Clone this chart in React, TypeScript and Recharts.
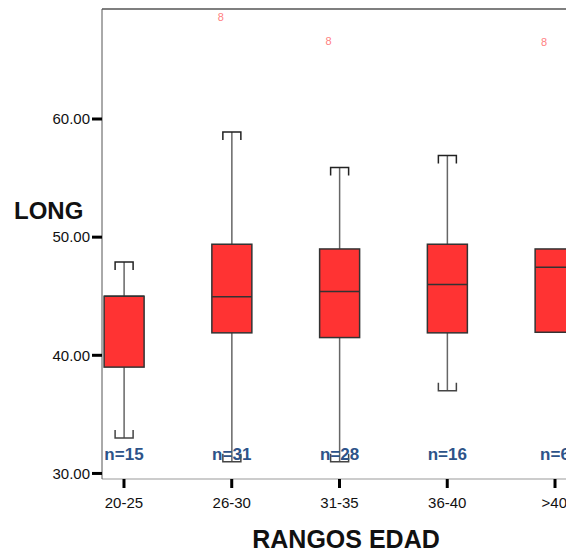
import React from 'react';
import { ComposedChart, Bar, Scatter, XAxis, YAxis, ReferenceLine } from 'recharts';

const categories = ['20-25', '26-30', '31-35', '36-40', '>40'];
const mins = [33, 31, 31, 37, 42];
const q1s = [39, 41.9, 41.5, 41.9, 41.95];
const medians = [45, 44.95, 45.4, 46, 47.45];
const q3s = [45, 49.4, 49.0, 49.4, 49.0];
const maxs = [47.9, 58.9, 55.9, 56.9, 49.0];
const counts = [15, 31, 28, 16, 6];
const outlierCats = [2, 3, 5];
const outlierValues = [68.64, 66.6, 66.55];
const outlierLabels = ['8', '8', '8'];
const yTicks = [30, 40, 50, 60];
const nLabelLevel = 31.1;

const Y_MIN = 29.53;
const Y_MAX = 69.31;

const boxData = categories.map((c, i) => ({
  x: i + 1,
  name: c,
  min: mins[i],
  q1: q1s[i],
  median: medians[i],
  q3: q3s[i],
  max: maxs[i],
  range: [mins[i], maxs[i]],
}));

const nData = categories.map((c, i) => ({ x: i + 1, y: nLabelLevel, n: counts[i] }));
const outlierData = outlierCats.map((c, i) => ({ x: c, y: outlierValues[i], label: outlierLabels[i] }));

const FONT = 'Liberation Sans, Arial, sans-serif';

const BoxShape = (props: any) => {
  const { x, y, width, height, payload } = props;
  if (x == null || y == null || !payload) return null;
  const top = Math.min(y, y + height);
  const bottom = Math.max(y, y + height);
  const span = payload.max - payload.min;
  const py = (v: number) => top + ((bottom - top) * (payload.max - v)) / span;
  const cx = x + width / 2;
  const capHalf = 9;
  const capH = 8;
  const yMax = py(payload.max);
  const yQ3 = py(payload.q3);
  const yMed = py(payload.median);
  const yQ1 = py(payload.q1);
  const yMin = py(payload.min);
  return (
    <g>
      {payload.max > payload.q3 && (
        <g>
          <line x1={cx} x2={cx} y1={yMax} y2={yQ3} stroke="#666" strokeWidth={1.5} />
          <path d={`M${cx - capHalf},${yMax + capH}V${yMax}H${cx + capHalf}V${yMax + capH}`} fill="none" stroke="#222" strokeWidth={1.5} />
        </g>
      )}
      {payload.min < payload.q1 && (
        <g>
          <line x1={cx} x2={cx} y1={yQ1} y2={yMin} stroke="#666" strokeWidth={1.5} />
          <path d={`M${cx - capHalf},${yMin - capH}V${yMin}H${cx + capHalf}V${yMin - capH}`} fill="none" stroke="#444" strokeWidth={1.5} />
        </g>
      )}
      <rect x={x} y={yQ3} width={width} height={yQ1 - yQ3} fill="#ff3333" stroke="#333" strokeWidth={1.5} />
      <line x1={x} x2={x + width} y1={yMed} y2={yMed} stroke="#333" strokeWidth={1.5} />
    </g>
  );
};

const NLabel = (props: any) => {
  const { cx, cy, payload } = props;
  if (cx == null) return null;
  return (
    <text x={cx} y={cy} textAnchor="middle" fontFamily={FONT} fontWeight="bold" fontSize={17} fill="#2d5389">
      {`n=${payload.n}`}
    </text>
  );
};

const OutlierLabel = (props: any) => {
  const { cx, cy, payload } = props;
  if (cx == null) return null;
  return (
    <text x={cx - 11} y={cy} textAnchor="middle" dominantBaseline="central" fontFamily={FONT} fontSize={11} fill="#ff7f7f">
      {payload.label}
    </text>
  );
};

const XTitle = (props: any) => {
  const vb = props.viewBox || {};
  return (
    <text x={vb.x + vb.width / 2 + 12} y={vb.y + vb.height - 4} textAnchor="middle" fontFamily={FONT} fontWeight="bold" fontSize={25} fill="#111">
      RANGOS EDAD
    </text>
  );
};

const YTitle = (props: any) => {
  const vb = props.viewBox || {};
  return (
    <text x={vb.x + 14} y={219} textAnchor="start" fontFamily={FONT} fontWeight="bold" fontSize={24} fill="#111">
      LONG
    </text>
  );
};

export default function App() {
  return (
    <div style={{ width: 566, height: 552, background: '#fff' }}>
      <style>{'body{margin:0}'}</style>
      <ComposedChart width={566} height={552} data={boxData} margin={{ top: 9, right: 0, bottom: 0, left: 0 }}>
        <XAxis
          dataKey="x"
          type="number"
          domain={[0.796, 5.102]}
          allowDataOverflow
          ticks={[1, 2, 3, 4, 5]}
          tickFormatter={(v: number) => categories[v - 1] ?? ''}
          height={73}
          tickSize={9}
          tickMargin={9}
          axisLine={{ stroke: '#999', strokeWidth: 1 }}
          tickLine={{ stroke: '#000', strokeWidth: 3 }}
          tick={{ fill: '#111', fontSize: 15, fontFamily: FONT }}
          label={{ content: XTitle }}
        />
        <YAxis
          type="number"
          domain={[Y_MIN, Y_MAX]}
          allowDataOverflow
          ticks={yTicks}
          tickFormatter={(v: number) => v.toFixed(2)}
          width={102}
          tickSize={10}
          tickMargin={2}
          axisLine={{ stroke: '#555', strokeWidth: 1 }}
          tickLine={{ stroke: '#000', strokeWidth: 3 }}
          tick={{ fill: '#111', fontSize: 15, fontFamily: FONT }}
          label={{ content: YTitle }}
        />
        <ReferenceLine y={Y_MAX} stroke="#555" strokeWidth={1.5} ifOverflow="visible" />
        <Scatter data={nData} dataKey="y" shape={NLabel} isAnimationActive={false} />
        <Bar dataKey="range" barSize={40} shape={BoxShape} isAnimationActive={false} />
        <Scatter data={outlierData} dataKey="y" shape={OutlierLabel} isAnimationActive={false} />
      </ComposedChart>
    </div>
  );
}
